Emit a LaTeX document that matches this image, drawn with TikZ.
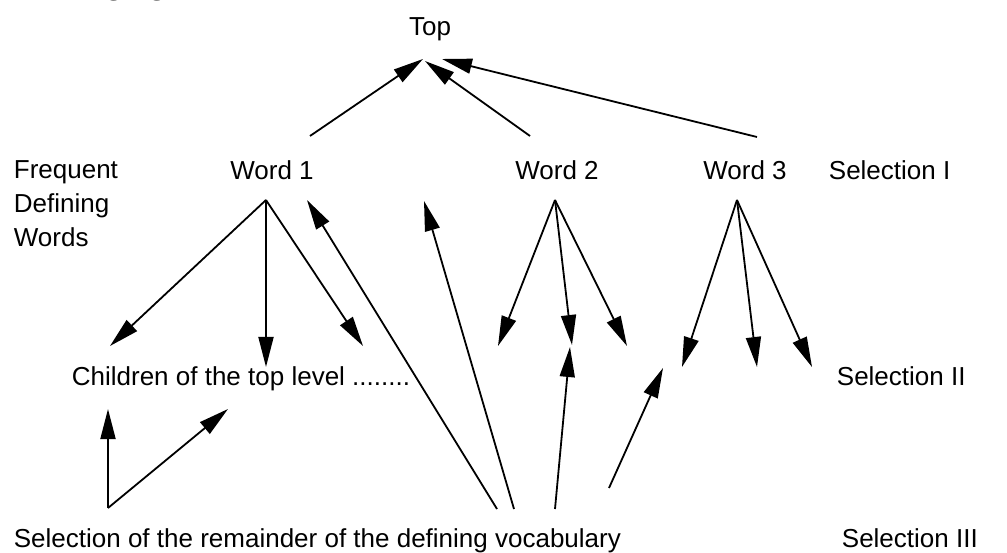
\documentclass[tikz,border=0pt]{standalone}
\usepackage{fontspec}
\setmainfont{Liberation Sans}
\newfontfamily\pageserif{Liberation Serif}
\usetikzlibrary{positioning,arrows.meta}

\begin{document}
\begin{tikzpicture}[x=1pt,y=-1pt,line width=1.8pt,
  >={Triangle[length=30pt,width=15pt]},
  every node/.style={font=\fontsize{26}{34}\selectfont,inner sep=0pt},
  lbl/.style={anchor=base west}]
\useasboundingbox (0,0) rectangle (1007,553);
\begin{scope}
\clip (0,0) rectangle (1007,553);
\node[anchor=base west,font=\pageserif\fontsize{30}{34}\selectfont] (prev) at (-6,-5) {in the languages.};
\end{scope}
\node[anchor=base] (top) at (430,36) {Top};
\node[anchor=base] (w1) at (272,180) {Word 1};
\node[anchor=base] (w2) at (557,180) {Word 2};
\node[anchor=base] (w3) at (745,180) {Word 3};
\node[lbl] (sel1) at (828,180) {Selection I};
\node[lbl,align=left] (freq) at (13,247) {Frequent\\Defining\\Words};
\node[lbl] (child) at (71,385) {Children of the top level ........};
\node[lbl] (sel2) at (836,385) {Selection II};
\node[lbl] (rest) at (13,547) {Selection of the remainder of the defining vocabulary};
\node[lbl] (sel3) at (841,547) {Selection III};
% free ends
\coordinate (t1) at (423,59);
\coordinate (t2) at (425,61);
\coordinate (t3) at (442,59);
\coordinate (u1) at (310,136);
\coordinate (u2) at (530,136);
\coordinate (u3) at (757,137);
\coordinate (f1) at (266,200);
\coordinate (f2) at (555,200);
\coordinate (f3) at (737,200);
\coordinate (c11) at (110,346);
\coordinate (c12) at (266,367);
\coordinate (c13) at (363,346);
\coordinate (c21) at (498,346);
\coordinate (c22) at (572,345);
\coordinate (c23) at (627,346);
\coordinate (c31) at (682,367);
\coordinate (c32) at (757,367);
\coordinate (c33) at (812,367);
\coordinate (b0) at (108,508);
\coordinate (b1) at (497,509);
\coordinate (b2) at (514,509);
\coordinate (b3) at (555,509);
\coordinate (b4) at (609,488);
\coordinate (d1) at (108,409);
\coordinate (d2) at (228,409);
\coordinate (e1) at (307,200);
\coordinate (e2) at (424,201);
\coordinate (e3) at (570,347);
\coordinate (e4) at (663,368);
% up to Top
\draw[->] (u1)to (t1);
\draw[->] (u2)to (t2);
\draw[->] (u3)to (t3);
% down to the children
\draw[->] (f1)to (c11);
\draw[->] (f1)to (c12);
\draw[->] (f1)to (c13);
\draw[->] (f2)to (c21);
\draw[->] (f2)to (c22);
\draw[->] (f2)to (c23);
\draw[->] (f3)to (c31);
\draw[->] (f3)to (c32);
\draw[->] (f3)to (c33);
% up from the remainder
\draw[->] (b0)to (d1);
\draw[->] (b0)to (d2);
\draw[->] (b1)to (e1);
\draw[->] (b2)to (e2);
\draw[->] (b3)to (e3);
\draw[->] (b4)to (e4);
\end{tikzpicture}
\end{document}
